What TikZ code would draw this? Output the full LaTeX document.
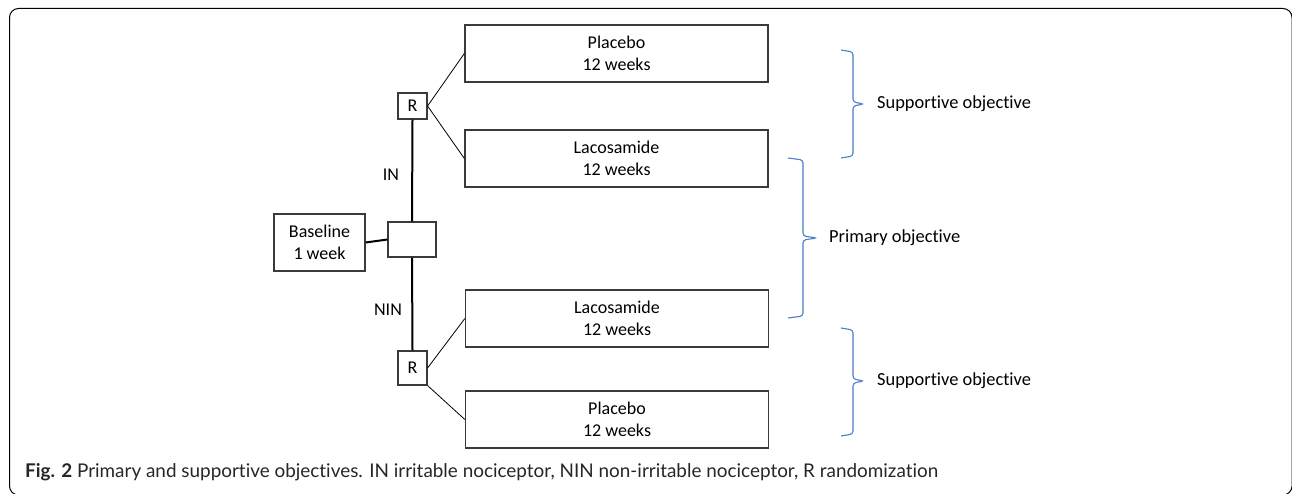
\documentclass[tikz,border=0pt]{standalone}
\usepackage{fontspec}
\setmainfont{Carlito}[Ligatures=NoCommon]
\newfontfamily\capfont{Lato}[Ligatures=NoCommon]
\usetikzlibrary{positioning}

\definecolor{bracecol}{HTML}{4A7EC8}
\definecolor{boxline}{HTML}{3A3A3A}

\begin{document}
\begin{tikzpicture}[x=1pt,y=-1pt,
	armbox/.style={draw=boxline, line width=1.3pt, minimum width=303pt, minimum height=57pt, inner sep=0pt, align=center, font=\fontsize{18}{22}\selectfont},
	rbox/.style={draw=boxline, line width=1.1pt, minimum width=29pt, inner sep=0pt, font=\fontsize{18}{22}\selectfont},
	stem/.style={line width=2pt},
	twig/.style={line width=0.8pt},
	objbrace/.style={draw=bracecol, line width=1.1pt, rounded corners=3pt},
	objlabel/.style={anchor=west, inner sep=0pt, font=\fontsize{18.4}{22}\selectfont}]
	\useasboundingbox (0,0) rectangle (1292,494);
	% outer frame
	\draw[line width=1pt, rounded corners=9pt] (9.5,8.5) rectangle (1292,495);
	% arms
	\node[armbox] (plA) at (616.5,53.5) {Placebo\\12 weeks};
	\node[armbox] (laA) at (616.5,158.5) {Lacosamide\\12 weeks};
	\node[armbox] (laB) at (617,318.5) {Lacosamide\\12 weeks};
	\node[armbox] (plB) at (617,419.5) {Placebo\\12 weeks};
	% randomisation
	\node[rbox, minimum height=26pt] (rA) at (412.5,106) {R};
	\node[rbox, minimum height=34pt] (rB) at (412.5,368) {R};
	\node[draw=boxline, line width=1.1pt, minimum width=48pt, minimum height=35pt, inner sep=0pt] (split) at (412,239.5) {};
	\node[armbox, minimum width=91pt] (base) at (319.5,242.5) {Baseline\\1 week};
	\node[font=\fontsize{18}{22}\selectfont] (in) at (391,175) {IN};
	\node[font=\fontsize{18}{22}\selectfont] (nin) at (388,310) {NIN};
	% connectors
	\draw[stem] (base.east) -- (split.west);
	\draw[stem] (rA.south) -- (split.north);
	\draw[stem] (split.south) -- (rB.north);
	\draw[twig] (rA.east) -- (plA.west);
	\draw[twig] (rA.east) -- (laA.west);
	\draw[twig] (rB.east) -- (laB.west);
	\draw[twig] (rB.south east) -- (plB.west);
	% braces
	\draw[objbrace] (841,50) -- (853,52) -- (853,102) -- (864,104) -- (853,106) -- (853,156) -- (841,158);
	\draw[objbrace] (788,158) -- (803,160) -- (803,236) -- (817,238) -- (803,240) -- (803,316) -- (788,318);
	\draw[objbrace] (841,328) -- (853,330) -- (853,379) -- (864,381) -- (853,383) -- (853,434) -- (841,436);
	\node[objlabel] (supA) at (877,104) {Supportive objective};
	\node[objlabel] (prim) at (829,238) {Primary objective};
	\node[objlabel] (supB) at (877,381) {Supportive objective};
	% caption
	\node[anchor=west, inner sep=0pt, text=black!85, font=\capfont\fontsize{18.9}{22}\selectfont] (cap) at (25,472)
		{\textbf{Fig. 2} Primary and supportive objectives. IN irritable nociceptor, NIN non-irritable nociceptor, R randomization};
\end{tikzpicture}
\end{document}
